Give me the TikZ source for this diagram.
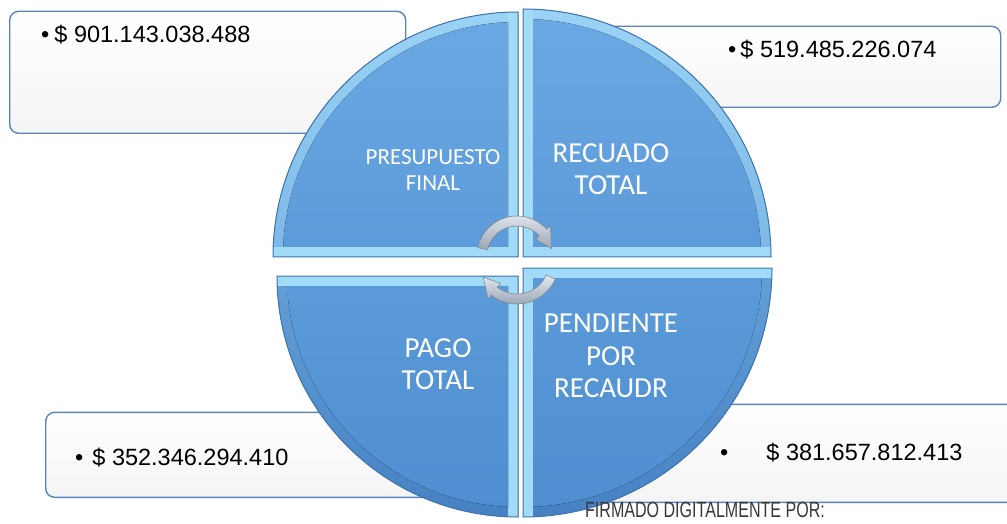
\documentclass[tikz,border=0pt]{standalone}
\usepackage{fontspec}
\setmainfont{Liberation Sans}
\newfontfamily\carlito{Carlito}
\usetikzlibrary{calc}
\definecolor{boxline}{HTML}{5B84BC}
\definecolor{qline}{HTML}{3F73AE}
\definecolor{qstrip}{HTML}{A2DBF7}
\definecolor{qtop}{HTML}{69A8E2}
\definecolor{qbot}{HTML}{4F8ED0}
\definecolor{bevUpA}{HTML}{9AD3F5}
\definecolor{bevUpB}{HTML}{5E9DD8}
\definecolor{bevLoA}{HTML}{7FBEEB}
\definecolor{bevLoB}{HTML}{4681C3}
\definecolor{arrowline}{HTML}{7D8796}
\definecolor{arrowtop}{HTML}{E4E9EF}
\definecolor{arrowbot}{HTML}{9AA6B4}
\definecolor{signgray}{HTML}{383838}
% #1,#2 corner; #3 radius; #4,#5 signs; #6 start angle; #7,#8 bevel colours
\newcommand\quadrant[8]{%
  \begin{scope}
    \clip (#1,#2) -- ++(#6:#3) arc[start angle=#6, delta angle=90, radius=#3] -- cycle;
    \fill[top color=#7, bottom color=#8] ({#1-#3},{#2-#3}) rectangle ({#1+#3},{#2+#3});
    \fill[qstrip] ({#1+#4*10},#2) rectangle (#1,{#2+#5*#3});
    \fill[qstrip] (#1,{#2+#5*10}) rectangle ({#1+#4*#3},#2);
    \clip ({#1+#4*10},{#2+#5*10}) rectangle ({#1+#4*#3},{#2+#5*#3});
    \fill[top color=qtop, bottom color=qbot] (#1,#2) circle ({#3-10});
  \end{scope}
  \draw[qline, line width=1pt] (#1,#2) -- ++(#6:#3) arc[start angle=#6, delta angle=90, radius=#3] -- cycle;
}
\tikzset{
  box/.style={draw=boxline, line width=1.4pt, rounded corners=9pt, top color=white, bottom color=black!4, anchor=south west, inner sep=0pt},
  val/.style={font=\fontsize{23.5}{26}\selectfont, text=black, anchor=base west, inner sep=0pt},
  qlabel/.style={font=\carlito\fontsize{29}{32.5}\selectfont, text=white, align=center, inner sep=0pt},
  cyc/.style={draw=arrowline, line width=0.6pt, top color=arrowtop, bottom color=arrowbot}
}
\begin{document}
\begin{tikzpicture}[x=1pt,y=1pt]
\useasboundingbox (0,0) rectangle (1007,523);
\clip (0,0) rectangle (1007,523);
\fill[white] (0,0) rectangle (1007,523);
% boxes
\node[box, minimum width=396pt, minimum height=122pt] (b1) at (9,389) {};
\node[box, minimum width=440pt, minimum height=81pt] (b2) at (560,415) {};
\node[box, minimum width=420pt, minimum height=85pt] (b3) at (45,25) {};
\node[box, minimum width=430pt, minimum height=98pt] (b4) at (600,20) {};
% quadrants
\quadrant{518}{266}{245}{-1}{1}{90}{bevUpA}{bevUpB}
\quadrant{523}{266}{248}{1}{1}{0}{bevUpA}{bevUpB}
\quadrant{518}{247}{241}{-1}{-1}{180}{bevLoA}{bevLoB}
\quadrant{523}{255}{249}{1}{-1}{270}{bevLoA}{bevLoB}
% labels
\node[qlabel, font=\carlito\fontsize{23}{26}\selectfont] (q1) at (433,353) {PRESUPUESTO\\FINAL};
\node[qlabel] (q2) at (611,354) {RECUADO\\TOTAL};
\node[qlabel] (q3) at (438,159) {PAGO\\TOTAL};
\node[qlabel] (q4) at (611,167) {PENDIENTE\\POR\\RECAUDR};
% values
\node[val] (v1) at (41,480) {•\hspace{5pt}\$ 901.143.038.488};
\node[val] (v2) at (728,465) {•\hspace{4pt}\$ 519.485.226.074};
\node[val] (v3) at (75,58) {•\hspace{9pt}\$ 352.346.294.410};
\node[val] (v4) at (720,63) {•\hspace{38pt}\$ 381.657.812.413};
% cycle arrows
\coordinate (o1) at (517,267);
\coordinate (o2) at (517,261);
\path[cyc] ($(o1)+(168:40)$) arc[start angle=168, end angle=42, radius=40]
  -- ($(o1)+(42:45)$) -- ($(o1)+(12:35.5)$) -- ($(o1)+(42:25)$) -- ($(o1)+(42:30)$)
  arc[start angle=42, end angle=168, radius=30] -- cycle;
\path[cyc] ($(o2)+(-24:42)$) arc[start angle=-24, end angle=-128, radius=42]
  -- ($(o2)+(-128:47)$) -- ($(o2)+(-156:37)$) -- ($(o2)+(-128:27)$) -- ($(o2)+(-128:32)$)
  arc[start angle=-128, end angle=-24, radius=32] -- cycle;
% signature
\node[font=\fontsize{22}{24}\selectfont, text=signgray, xscale=0.73, inner sep=0pt] (sig) at (705,13) {FIRMADO DIGITALMENTE POR:};
\end{tikzpicture}
\end{document}
